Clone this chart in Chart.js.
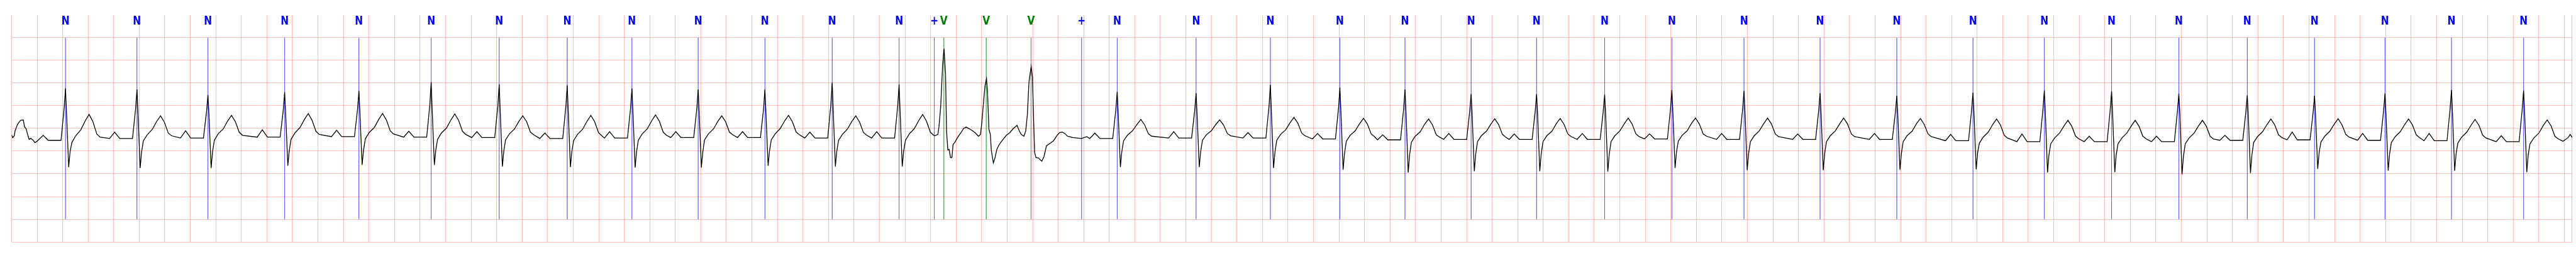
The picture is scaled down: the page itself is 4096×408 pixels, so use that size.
<!DOCTYPE html>
<html>
<head>
<meta charset="utf-8">
<script src="https://cdn.jsdelivr.net/npm/chart.js@4.4.1/dist/chart.umd.min.js"></script>
<style>
html,body{margin:0;padding:0;background:#fff;overflow:hidden}
canvas{display:block}
</style>
</head>
<body>
<canvas id="c" width="4096" height="408"></canvas>
<script>
// ---------- data (time in ms, amplitude in mV) ----------
const annTimes = [422, 982, 1538, 2139, 2721, 3287, 3820, 4353, 4860, 5379, 5902, 6429, 6953,
  7229, 7304, 7636, 7987, 8383,
  8662, 9280, 9862, 10407, 10917, 11435, 11948, 12481, 13008, 13573, 14169, 14770, 15367,
  15926, 16453, 16980, 17516, 18043, 18595, 19116, 19681];
const annLabels = ['N','N','N','N','N','N','N','N','N','N','N','N','N',
  '+','V','V','V','+',
  'N','N','N','N','N','N','N','N','N','N','N','N','N','N','N','N','N','N','N','N','N'];

// sample instants of each normal beat, relative to its annotation (ms)
const beatOffsets = [-215, -175, -135, -35, -11, 0, 8, 25, 36, 50, 80, 120, 155, 185, 215, 245, 271];
// amplitudes read for each normal beat (N), at the instants above
const beatWaves = [
  [-.26,-.15,-.26,-.26,.44,.88,.35,-.85,-.51,-.31,-.16,-.03,.17,.31,.15,-.12,-.19],
  [-.22,-.08,-.22,-.22,.43,.86,.34,-.87,-.52,-.27,-.14,-.02,.16,.28,.14,-.10,-.16],
  [-.21,-.05,-.21,-.21,.37,.74,.30,-.87,-.52,-.26,-.12,-.01,.17,.29,.15,-.08,-.15],
  [-.19,-.03,-.19,-.19,.40,.80,.32,-.82,-.49,-.24,-.10,.02,.20,.33,.18,-.06,-.13],
  [-.18,-.04,-.18,-.18,.42,.83,.33,-.80,-.48,-.23,-.09,.02,.20,.33,.19,-.05,-.12],
  [-.19,-.06,-.19,-.19,.51,1.02,.41,-.80,-.48,-.24,-.10,.01,.19,.32,.18,-.06,-.13],
  [-.20,-.07,-.20,-.20,.49,.97,.39,-.84,-.50,-.25,-.12,-.01,.16,.28,.15,-.08,-.14],
  [-.22,-.10,-.22,-.22,.48,.95,.38,-.85,-.51,-.27,-.13,-.02,.16,.29,.15,-.09,-.16],
  [-.21,-.07,-.21,-.21,.44,.88,.35,-.86,-.52,-.26,-.12,-.01,.17,.30,.16,-.08,-.15],
  [-.20,-.07,-.20,-.20,.43,.86,.34,-.86,-.52,-.25,-.12,-.01,.16,.28,.15,-.08,-.14],
  [-.20,-.07,-.20,-.20,.43,.86,.34,-.82,-.49,-.25,-.12,.00,.17,.29,.15,-.08,-.14],
  [-.21,-.08,-.21,-.21,.51,1.01,.40,-.84,-.50,-.26,-.13,-.01,.16,.28,.14,-.09,-.15],
  [-.21,-.07,-.21,-.21,.49,.97,.39,-.84,-.50,-.26,-.12,.00,.18,.31,.16,-.08,-.15],
  [-.22,-.10,-.22,-.22,.41,.81,.32,-.85,-.51,-.27,-.15,-.05,.09,.20,.08,-.12,-.17],
  [-.21,-.07,-.21,-.21,.39,.78,.31,-.85,-.51,-.26,-.14,-.05,.09,.19,.08,-.11,-.16],
  [-.21,-.09,-.21,-.21,.48,.96,.38,-.87,-.52,-.26,-.13,-.03,.13,.245,.12,-.10,-.16],
  [-.23,-.11,-.23,-.23,.45,.90,.36,-.91,-.55,-.28,-.15,-.05,.11,.225,.10,-.12,-.18],
  [-.25,-.14,-.25,-.25,.43,.86,.34,-.97,-.58,-.30,-.17,-.07,.10,.21,.08,-.14,-.19],
  [-.24,-.11,-.24,-.24,.38,.76,.30,-.94,-.56,-.29,-.16,-.06,.10,.215,.09,-.13,-.19],
  [-.24,-.12,-.24,-.24,.38,.76,.30,-.94,-.56,-.29,-.16,-.06,.11,.22,.09,-.12,-.18],
  [-.24,-.11,-.24,-.24,.38,.75,.30,-.95,-.57,-.29,-.16,-.05,.11,.23,.10,-.12,-.18],
  [-.23,-.12,-.23,-.23,.43,.85,.34,-.87,-.52,-.28,-.15,-.05,.12,.23,.10,-.12,-.17],
  [-.24,-.11,-.24,-.24,.42,.83,.33,-.92,-.55,-.29,-.16,-.05,.11,.23,.10,-.12,-.18],
  [-.24,-.12,-.24,-.24,.39,.78,.31,-.92,-.55,-.29,-.16,-.05,.11,.23,.10,-.12,-.18],
  [-.24,-.11,-.24,-.24,.36,.72,.29,-.91,-.55,-.29,-.16,-.06,.11,.22,.09,-.12,-.18],
  [-.27,-.13,-.27,-.27,.40,.79,.32,-.90,-.54,-.32,-.19,-.08,.09,.21,.08,-.15,-.21],
  [-.29,-.12,-.29,-.29,.42,.84,.34,-.97,-.58,-.34,-.21,-.10,.06,.18,.05,-.17,-.23],
  [-.29,-.17,-.29,-.29,.41,.82,.33,-.96,-.58,-.34,-.21,-.10,.06,.18,.05,-.17,-.23],
  [-.29,-.17,-.29,-.29,.39,.77,.31,-1.01,-.61,-.34,-.21,-.10,.06,.18,.05,-.17,-.23],
  [-.26,-.15,-.26,-.26,.37,.73,.29,-.98,-.59,-.31,-.18,-.07,.09,.21,.08,-.14,-.20],
  [-.25,-.08,-.25,-.25,.36,.72,.29,-.89,-.53,-.30,-.17,-.06,.10,.215,.08,-.13,-.19],
  [-.26,-.11,-.26,-.26,.39,.77,.31,-.93,-.56,-.31,-.18,-.07,.09,.21,.08,-.14,-.20],
  [-.27,-.11,-.27,-.27,.43,.85,.34,-.93,-.56,-.32,-.19,-.08,.08,.20,.07,-.15,-.21],
  [-.29,-.16,-.29,-.29,.42,.84,.34,-.96,-.58,-.34,-.21,-.10,.07,.19,.06,-.17,-.23]
];
// trace before the first annotated beat
const leadIn = [[0,-0.14],[8,-0.20],[21,-0.16],[27,-0.05],[46,0.09],[56,0.13],[70,0.18],[91,0.19],
  [102,0.03],[113,0.0],[123,-0.11],[137,-0.24],[150,-0.22],[169,-0.26],[182,-0.31],[195,-0.29]];
// trace through the ventricular run (V V V)
const ventricularRun = [[7233,-0.16],[7257,-0.13],[7266,0.05],[7279,0.48],[7294,1.39],[7305,1.76],[7317,1.21],
  [7325,-0.06],[7335,-0.47],[7345,-0.46],[7356,-0.64],[7367,-0.64],[7376,-0.35],[7389,-0.31],[7411,-0.20],
  [7438,-0.09],[7459,0.0],[7478,0.03],[7513,-0.02],[7548,-0.09],[7575,-0.17],[7591,-0.13],[7601,0.12],
  [7615,0.59],[7627,0.95],[7638,1.10],[7646,0.81],[7657,-0.02],[7668,-0.13],[7676,-0.49],[7692,-0.76],
  [7705,-0.64],[7719,-0.46],[7738,-0.35],[7767,-0.24],[7794,-0.15],[7821,-0.09],[7848,0.0],[7869,0.05],
  [7877,0.07],[7896,-0.06],[7910,-0.13],[7931,-0.17],[7945,-0.06],[7958,0.30],[7971,1.03],[7988,1.37],
  [7998,1.135],[8006,0.30],[8015,-0.53],[8026,-0.64],[8046,-0.65],[8071,-0.72],[8088,-0.62],[8108,-0.38],
  [8135,-0.33],[8163,-0.27],[8191,-0.15],[8210,-0.09],[8231,-0.08],[8252,-0.11],[8272,-0.17],[8314,-0.20],
  [8382,-0.22],[8424,-0.18]];
// trace after the last annotated beat
const tail = [[19990,-0.28],[20030,-0.20],[20046,-0.13],[20062,-0.20]];

// axes (no tick labels are shown in the chart)
const xRange = [0, 20062];      // ms
const xGridStep = 200;          // ms
const yRange = [-2.5, 2.5];     // mV
const yGridStep = 0.5;          // mV
const annLineSpan = [-2, 2];    // mV

// ---------- build ----------
const ecg = [];
leadIn.forEach(([x, y]) => ecg.push({x, y}));
let bi = 0;
annTimes.forEach((t, i) => {
  if (annLabels[i] !== 'N') return;
  const w = beatWaves[bi++];
  beatOffsets.forEach((o, k) => ecg.push({x: t + o, y: w[k]}));
});
ventricularRun.forEach(([x, y]) => ecg.push({x, y}));
tail.forEach(([x, y]) => ecg.push({x, y}));
ecg.sort((a, b) => a.x - b.x);

function annSegments(test) {
  const d = [];
  annTimes.forEach((t, i) => {
    if (test(annLabels[i])) d.push({x: t, y: annLineSpan[1]}, {x: t, y: annLineSpan[0]}, {x: t, y: null});
  });
  return d;
}

const gridColor = 'rgba(255,0,0,0.26)';

const labelPlugin = {
  id: 'annLabels',
  afterDatasetsDraw(chart) {
    const {ctx, chartArea, scales} = chart;
    ctx.save();
    ctx.font = 'bold 20px "DejaVu Sans"';
    ctx.textAlign = 'center';
    ctx.textBaseline = 'alphabetic';
    annTimes.forEach((t, i) => {
      const px = scales.x.getPixelForValue(t);
      const lab = annLabels[i];
      ctx.fillStyle = lab === 'V' ? '#008000' : '#0000ff';
      ctx.save();
      ctx.translate(px, chartArea.top + 14.7);
      ctx.scale(0.77, 1);
      ctx.fillText(lab, 0, 0);
      ctx.restore();
    });
    ctx.restore();
  }
};

new Chart(document.getElementById('c'), {
  type: 'line',
  data: {
    datasets: [
      {data: ecg, borderColor: '#000', borderWidth: 1.3, pointRadius: 0, tension: 0, order: 0},
      {data: annSegments(l => l !== 'V'), borderColor: 'rgba(0,0,255,0.3)', borderWidth: 1, pointRadius: 0, order: 2},
      {data: annSegments(l => l === 'V'), borderColor: 'rgba(0,128,0,0.38)', borderWidth: 1, pointRadius: 0, order: 1}
    ]
  },
  options: {
    responsive: false,
    devicePixelRatio: 1,
    animation: false,
    events: [],
    layout: {padding: {left: 18.5, right: 6, top: 23.9, bottom: 23.9}},
    plugins: {legend: {display: false}, tooltip: {enabled: false}},
    scales: {
      x: {
        type: 'linear', min: xRange[0], max: xRange[1], bounds: 'data',
        ticks: {display: false, stepSize: xGridStep, includeBounds: false},
        grid: {color: gridColor, lineWidth: 1.1, drawTicks: false},
        border: {display: false}
      },
      y: {
        type: 'linear', min: yRange[0], max: yRange[1], bounds: 'data',
        ticks: {display: false, stepSize: yGridStep},
        grid: {color: c => (c.tick && c.tick.value === yRange[1]) ? 'rgba(0,0,0,0)' : gridColor, lineWidth: 1.1, drawTicks: false},
        border: {display: false}
      }
    }
  },
  plugins: [labelPlugin]
});
</script>
</body>
</html>
